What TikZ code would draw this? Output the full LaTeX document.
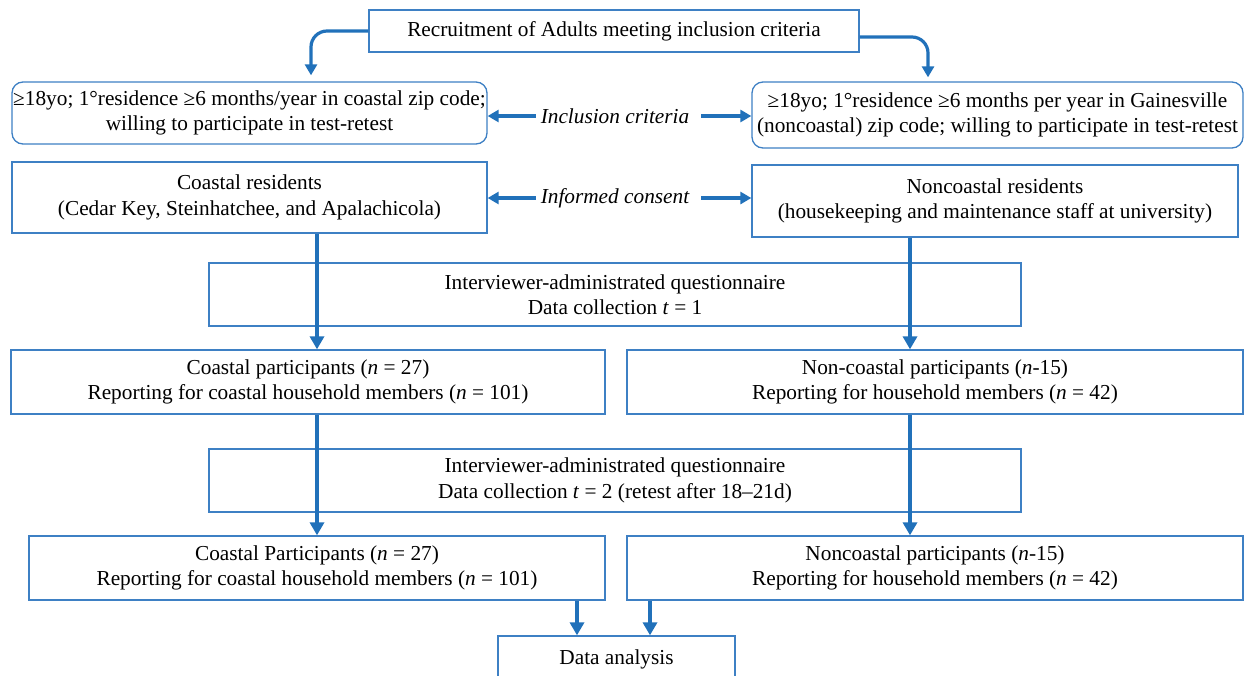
\documentclass[tikz,border=0pt]{standalone}
\usepackage{fontspec}
\setmainfont{Liberation Serif}
\usetikzlibrary{arrows.meta}
\definecolor{arrowblue}{RGB}{33,113,186}
\definecolor{boxblue}{RGB}{62,128,196}
\begin{document}
\begin{tikzpicture}[x=1pt,y=-1pt,
  box/.style={draw=boxblue,line width=1.3pt,fill=white,inner sep=0pt,align=center,
    font=\fontsize{21.3}{25.5}\selectfont},
  rbox/.style={box,rounded corners=11pt},
  lab/.style={inner sep=0pt,font=\fontsize{21.3}{25.5}\selectfont\itshape},
  arr/.style={draw=arrowblue,line width=3.6pt,-{Triangle[length=13pt,width=14pt]}},
  sarr/.style={draw=arrowblue,line width=3.2pt,-{Triangle[length=11pt,width=12pt]}}]
\useasboundingbox (0,0) rectangle (1250,675);
\clip (0,0) rectangle (1250,675);
% boxes
\node[box,minimum width=490pt,minimum height=42pt] (top) at (614,31) {Recruitment of Adults meeting inclusion criteria};
\node[rbox,minimum width=475pt,minimum height=62pt] (L2) at (249.5,113) {≥18yo; 1°residence ≥6 months/year in coastal zip code;\\willing to participate in test-retest};
\node[rbox,minimum width=491pt,minimum height=66pt] (R2) at (997.5,115) {≥18yo; 1°residence ≥6 months per year in Gainesville\\(noncoastal) zip code; willing to participate in test-retest};
\node[box,minimum width=475pt,minimum height=71pt] (L3) at (249.5,197.5) {Coastal residents\\(Cedar Key, Steinhatchee, and Apalachicola)};
\node[box,minimum width=486pt,minimum height=72pt] (R3) at (995,201) {Noncoastal residents\\(housekeeping and maintenance staff at university)};
\node[box,minimum width=812pt,minimum height=63pt] (Q1) at (615,294.5) {Interviewer-administrated questionnaire\\Data collection \textit{t} = 1};
\node[box,minimum width=594pt,minimum height=64pt] (L4) at (308,382) {Coastal participants (\textit{n} = 27)\\Reporting for coastal household members (\textit{n} = 101)};
\node[box,minimum width=616pt,minimum height=64pt] (R4) at (935,382) {Non-coastal participants (\textit{n}-15)\\Reporting for household members (\textit{n} = 42)};
\node[box,minimum width=812pt,minimum height=63pt] (Q2) at (615,480.5) {Interviewer-administrated questionnaire\\Data collection \textit{t} = 2 (retest after 18–21d)};
\node[box,minimum width=576pt,minimum height=64pt] (L5) at (317,568) {Coastal Participants (\textit{n} = 27)\\Reporting for coastal household members (\textit{n} = 101)};
\node[box,minimum width=616pt,minimum height=64pt] (R5) at (935,568) {Noncoastal participants (\textit{n}-15)\\Reporting for household members (\textit{n} = 42)};
\node[box,minimum width=237pt,minimum height=46pt] (DA) at (616.5,659) {Data analysis};
% labels
\node[lab] (IC) at (615,116) {Inclusion criteria};
\node[lab] (ICo) at (615,198) {Informed consent};
% helper coordinates
\coordinate (lx) at (317,0);
\coordinate (rx) at (910,0);
\coordinate (tlx) at (311,0);
\coordinate (trx) at (928,0);
\coordinate (dlx) at (577,0);
\coordinate (drx) at (650,0);
% top curved arrows
\draw[sarr,rounded corners=16pt,shorten >=6pt] (top.west) -| (L2.north -| tlx);
\draw[sarr,rounded corners=16pt,shorten >=4pt] ([yshift=-6pt]top.east) -| (R2.north -| trx);
% side arrows
\draw[sarr,shorten <=5pt] (IC.west) -- (IC.west -| L2.east);
\draw[sarr,shorten <=12pt] (IC.east) -- (IC.east -| R2.west);
\draw[sarr,shorten <=5pt] (ICo.west) -- (ICo.west -| L3.east);
\draw[sarr,shorten <=12pt] (ICo.east) -- (ICo.east -| R3.west);
% vertical arrows
\draw[arr] (L3.south -| lx) -- (L4.north -| lx);
\draw[arr] (R3.south -| rx) -- (R4.north -| rx);
\draw[arr] (L4.south -| lx) -- (L5.north -| lx);
\draw[arr] (R4.south -| rx) -- (R5.north -| rx);
\draw[arr] (L5.south -| dlx) -- (DA.north -| dlx);
\draw[arr] (R5.south -| drx) -- (DA.north -| drx);
\end{tikzpicture}
\end{document}
